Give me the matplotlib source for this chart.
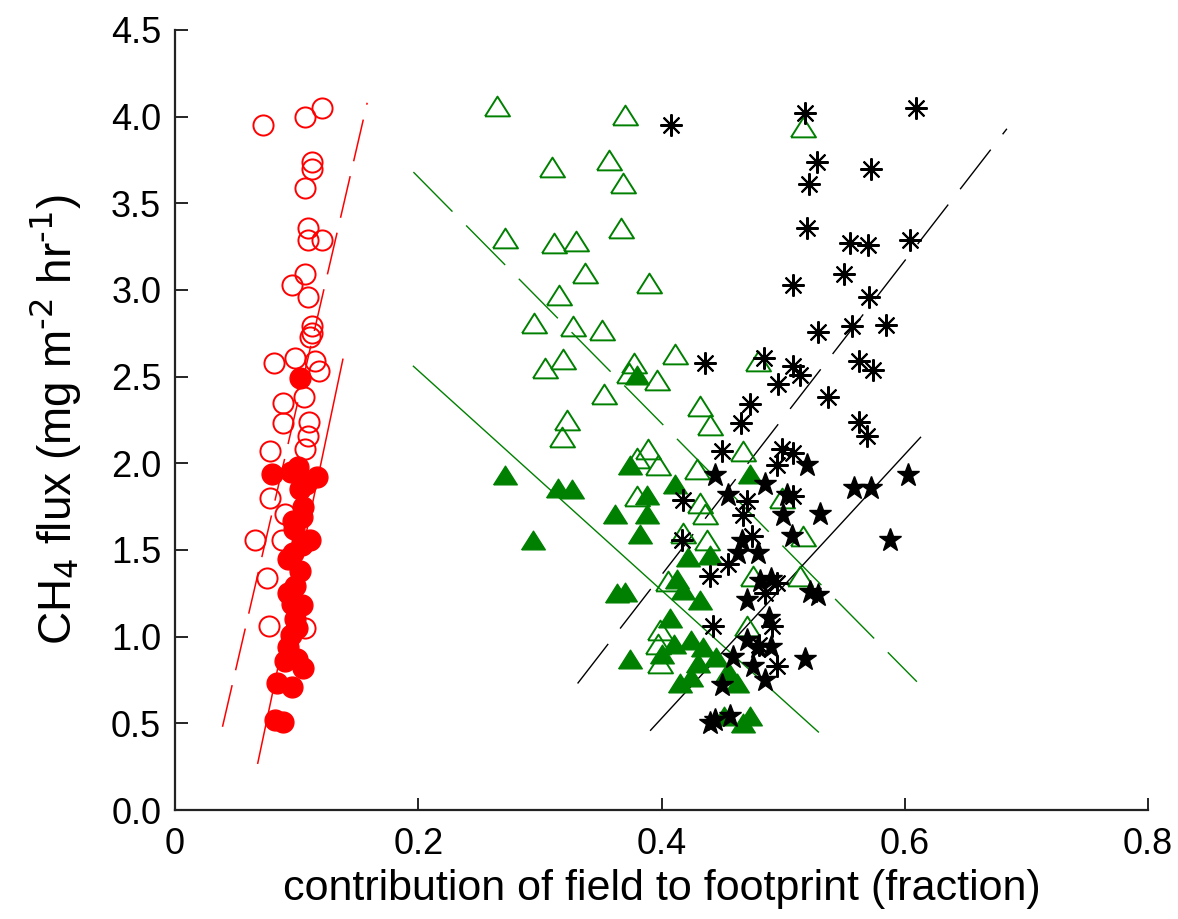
"""CH4 flux against field contribution to the flux footprint."""

from __future__ import annotations

import matplotlib

matplotlib.use("Agg")
import matplotlib.pyplot as plt
import numpy as np

FONT_STACK = ["Liberation Sans", "Arial", "DejaVu Sans"]
RED = "#ff0000"
GREEN = "#008000"
BLACK = "#000000"

# red open circles
red_open_x = [0.072, 0.107, 0.121, 0.113, 0.113, 0.107, 0.109, 0.109, 0.121, 0.107,
              0.096, 0.109, 0.113, 0.113, 0.111, 0.081, 0.099, 0.115, 0.118, 0.089,
              0.106, 0.089, 0.110, 0.109, 0.078, 0.107, 0.078, 0.090, 0.066, 0.088,
              0.076, 0.077, 0.107]
red_open_y = [3.95, 4.00, 4.05, 3.74, 3.70, 3.59, 3.36, 3.29, 3.29, 3.09,
              3.03, 2.96, 2.79, 2.75, 2.73, 2.58, 2.61, 2.59, 2.53, 2.35,
              2.38, 2.23, 2.24, 2.16, 2.07, 2.08, 1.80, 1.71, 1.56, 1.56,
              1.34, 1.06, 1.05]

# red filled circles
red_fill_x = [0.103, 0.101, 0.080, 0.117, 0.103, 0.105, 0.104, 0.111, 0.093, 0.099,
              0.096, 0.099, 0.093, 0.100, 0.084, 0.096, 0.082, 0.089, 0.104, 0.095,
              0.104, 0.097, 0.095, 0.098, 0.103, 0.093, 0.100, 0.105, 0.090, 0.097,
              0.108]
red_fill_y = [2.49, 1.98, 1.94, 1.92, 1.85, 1.75, 1.69, 1.56, 1.45, 1.29,
              1.19, 1.10, 0.94, 0.87, 0.73, 0.71, 0.52, 0.51, 1.53, 1.01,
              1.18, 1.67, 1.95, 1.62, 1.38, 1.25, 1.05, 0.82, 0.86, 1.48,
              1.88]

# green open triangles
green_open_x = [0.265, 0.370, 0.310, 0.357, 0.368, 0.367, 0.271, 0.312, 0.330, 0.337,
                0.390, 0.316, 0.295, 0.327, 0.351, 0.319, 0.304, 0.377, 0.411, 0.396,
                0.373, 0.353, 0.322, 0.318, 0.432, 0.440, 0.389, 0.397, 0.380, 0.429,
                0.467, 0.380, 0.432, 0.436, 0.437, 0.418, 0.499, 0.516, 0.475, 0.514,
                0.405, 0.399, 0.397, 0.399, 0.470, 0.516, 0.479]
green_open_y = [4.06, 4.01, 3.71, 3.75, 3.62, 3.36, 3.30, 3.27, 3.28, 3.10,
                3.04, 2.97, 2.81, 2.79, 2.77, 2.60, 2.55, 2.58, 2.63, 2.48,
                2.52, 2.40, 2.25, 2.15, 2.33, 2.22, 2.08, 1.99, 2.03, 1.97,
                2.07, 1.81, 1.77, 1.71, 1.56, 1.60, 1.80, 1.58, 1.35, 1.35,
                1.32, 1.04, 0.96, 0.85, 1.06, 3.94, 2.59]

# green filled triangles
green_fill_x = [0.271, 0.294, 0.315, 0.326, 0.374, 0.388, 0.362, 0.388, 0.382, 0.411,
                0.380, 0.422, 0.413, 0.418, 0.432, 0.363, 0.370, 0.407, 0.410, 0.424,
                0.434, 0.374, 0.415, 0.424, 0.462, 0.467, 0.473, 0.440, 0.451, 0.473,
                0.445, 0.455, 0.400, 0.430]
green_fill_y = [1.93, 1.56, 1.86, 1.85, 1.99, 1.82, 1.71, 1.71, 1.59, 1.88,
                2.51, 1.46, 1.33, 1.27, 1.21, 1.25, 1.26, 1.11, 0.96, 0.98,
                0.94, 0.87, 0.73, 0.77, 0.73, 0.50, 1.94, 1.47, 0.54, 0.54,
                0.88, 0.80, 0.90, 0.85]

# black asterisks
black_ast_x = [0.408, 0.518, 0.609, 0.528, 0.572, 0.521, 0.520, 0.555, 0.570, 0.604,
               0.508, 0.550, 0.571, 0.529, 0.557, 0.585, 0.436, 0.484, 0.508, 0.514,
               0.496, 0.562, 0.574, 0.537, 0.473, 0.465, 0.562, 0.569, 0.450, 0.499,
               0.508, 0.495, 0.418, 0.470, 0.508, 0.467, 0.417, 0.474, 0.455, 0.440,
               0.442, 0.495, 0.491, 0.495, 0.485, 0.480]
black_ast_y = [3.95, 4.02, 4.05, 3.74, 3.70, 3.61, 3.36, 3.27, 3.26, 3.29,
               3.03, 3.09, 2.96, 2.76, 2.79, 2.80, 2.58, 2.61, 2.56, 2.51,
               2.46, 2.59, 2.54, 2.38, 2.34, 2.23, 2.24, 2.16, 2.07, 2.08,
               2.06, 1.99, 1.79, 1.78, 1.81, 1.70, 1.56, 1.58, 1.42, 1.35,
               1.06, 1.31, 1.06, 0.83, 1.25, 0.95]

# black filled stars
black_star_x = [0.444, 0.520, 0.485, 0.503, 0.500, 0.530, 0.507, 0.558, 0.572, 0.603,
                0.588, 0.455, 0.463, 0.479, 0.481, 0.490, 0.470, 0.522, 0.529, 0.488,
                0.470, 0.479, 0.490, 0.459, 0.475, 0.485, 0.518, 0.450, 0.444, 0.456,
                0.440, 0.466]
black_star_y = [1.93, 1.99, 1.88, 1.82, 1.70, 1.71, 1.58, 1.86, 1.86, 1.93,
                1.56, 1.82, 1.48, 1.48, 1.32, 1.33, 1.21, 1.26, 1.24, 1.11,
                0.98, 0.94, 0.94, 0.88, 0.83, 0.75, 0.87, 0.72, 0.52, 0.54,
                0.50, 1.55]

# fitted lines (end points)
red_dash_x, red_dash_y = [0.039, 0.158], [0.48, 4.08]
red_solid_x, red_solid_y = [0.068, 0.138], [0.27, 2.60]
green_dash_x, green_dash_y = [0.196, 0.610], [3.68, 0.74]
green_solid_x, green_solid_y = [0.196, 0.529], [2.56, 0.45]
black_dash_x, black_dash_y = [0.331, 0.684], [0.73, 3.93]
black_solid_x, black_solid_y = [0.391, 0.613], [0.46, 2.15]

x_ticks = [0, 0.2, 0.4, 0.6, 0.8]
x_tick_labels = ["0", "0.2", "0.4", "0.6", "0.8"]
y_ticks = np.arange(0.0, 4.51, 0.5)

TRIANGLE = [(-1.0, -0.79), (1.0, -0.79), (0.0, 0.79), (-1.0, -0.79)]


def main() -> None:
    plt.rcParams.update({"font.family": "sans-serif", "font.sans-serif": FONT_STACK})

    fig = plt.figure(figsize=(11.78, 9.19), dpi=100)
    ax = fig.add_axes([0.1486, 0.1186, 0.8259, 0.8488])

    ax.plot(red_open_x, red_open_y, linestyle="none", marker="o", ms=14.5,
            mfc="none", mec=RED, mew=1.4)
    ax.plot(red_fill_x, red_fill_y, linestyle="none", marker="o", ms=15,
            mfc=RED, mec=RED, mew=1.0)

    ax.plot(red_dash_x, red_dash_y, color=RED, lw=1.1, dashes=(28, 10))
    ax.plot(red_solid_x, red_solid_y, color=RED, lw=1.1)
    ax.plot(green_dash_x, green_dash_y, color=GREEN, lw=1.0, dashes=(40, 14))
    ax.plot(green_solid_x, green_solid_y, color=GREEN, lw=1.0)
    ax.plot(black_dash_x, black_dash_y, color=BLACK, lw=1.0, dashes=(36, 14))
    ax.plot(black_solid_x, black_solid_y, color=BLACK, lw=1.0)

    ax.plot(green_open_x, green_open_y, linestyle="none", marker=TRIANGLE, ms=18,
            mfc="none", mec=GREEN, mew=1.4)
    ax.plot(green_fill_x, green_fill_y, linestyle="none", marker=TRIANGLE, ms=17,
            mfc=GREEN, mec=GREEN, mew=1.0)
    ax.plot(black_ast_x, black_ast_y, linestyle="none", marker=(8, 2, 0), ms=16,
            mec=BLACK, mew=1.5)
    ax.plot(black_star_x, black_star_y, linestyle="none", marker="*", ms=17,
            mfc=BLACK, mec=BLACK, mew=1.0)

    ax.set_xlim(0.0, 0.8)
    ax.set_ylim(0.0, 4.5)
    ax.set_xticks(x_ticks)
    ax.set_xticklabels(x_tick_labels)
    ax.set_yticks(y_ticks)
    ax.set_yticklabels([f"{v:.1f}" for v in y_ticks])
    ax.tick_params(direction="in", length=9, width=1.2, labelsize=26, pad=10)
    ax.tick_params(axis="x", pad=12)

    for side in ("top", "right"):
        ax.spines[side].set_visible(False)
    for side in ("left", "bottom"):
        ax.spines[side].set_linewidth(1.6)
        ax.spines[side].set_color("#222222")

    ax.set_xlabel("contribution of field to footprint (fraction)", fontsize=31, labelpad=5)
    ax.set_ylabel(r"CH$_4$ flux (mg m$^{\text{-}2}$ hr$^{\text{-}1}$)",
                  fontsize=33, labelpad=20)

    fig.savefig("out.png", dpi=100)
    plt.close(fig)


if __name__ == "__main__":
    main()
